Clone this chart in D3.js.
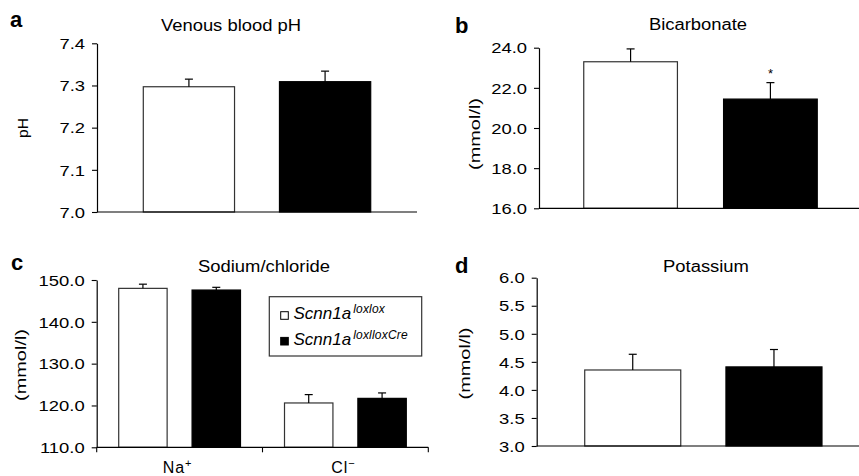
<!DOCTYPE html>
<html>
<head>
<meta charset="utf-8">
<script src="https://cdn.jsdelivr.net/npm/d3@7"></script>
<style>
  html, body { margin: 0; padding: 0; background: #fff; }
  svg { display: block; }
  text { font-family: "Liberation Sans", Arial, Helvetica, sans-serif; fill: #000; }
</style>
</head>
<body>
<svg id="chart" width="859" height="476"></svg>
<script>
// ---------- data ----------
const groups = ["loxlox", "loxlloxCre"];
const legendBase = ["Scnn1a", "Scnn1a"];
const legendSup = ["loxlox", "loxlloxCre"];

const phMeans = [7.297, 7.309];
const phErrors = [0.018, 0.025];
const phTicks = [7.0, 7.1, 7.2, 7.3, 7.4];

const bicarbMeans = [23.30, 21.44];
const bicarbErrors = [0.64, 0.82];
const bicarbTicks = [16, 18, 20, 22, 24];
const bicarbSignificant = [false, true];

const ionCategories = ["Na", "Cl"];
const ionSuperscripts = ["+", "\u2212"];
const sodiumMeans = [148.0, 147.6];
const sodiumErrors = [1.0, 0.65];
const chlorideMeans = [120.6, 121.7];
const chlorideErrors = [2.0, 1.3];
const ionTicks = [110, 120, 130, 140, 150];

const potassiumMeans = [4.355, 4.41];
const potassiumErrors = [0.28, 0.31];
const potassiumTicks = [3.0, 3.5, 4.0, 4.5, 5.0, 5.5, 6.0];

// ---------- drawing ----------
const svg = d3.select("#chart");
const fills = ["#ffffff", "#000000"];
const strokes = ["#333333", "#000000"];
const TICK_STRETCH = 1.27;
const TITLE_STRETCH = 1.15;

function stretch(sel, factor) {
  sel.each(function () {
    const len = this.getComputedTextLength();
    d3.select(this).attr("textLength", len * factor).attr("lengthAdjust", "spacingAndGlyphs");
  });
}

function yAxis(g, y, ticks, fmt) {
  const ax = d3.axisLeft(y).tickValues(ticks).tickFormat(d3.format(fmt)).tickSize(5).tickPadding(7).tickSizeOuter(0);
  g.call(ax);
  g.select(".domain").attr("stroke", "#000").attr("stroke-width", 1.2);
  g.selectAll(".tick line").attr("stroke", "#000").attr("stroke-width", 1.1);
  g.selectAll(".tick text").attr("font-size", 14.5).attr("font-family", "Liberation Sans, Arial, sans-serif").attr("fill", "#000").attr("dy", "0.36em");
  stretch(g.selectAll(".tick text"), TICK_STRETCH);
}

function drawBars(g, x, y, means, errors, offset) {
  const bw = x.bandwidth();
  groups.forEach((grp, i) => {
    const x0 = x(grp) + (offset || 0);
    g.append("rect")
      .attr("x", x0).attr("width", bw)
      .attr("y", y(means[i])).attr("height", y.range()[0] - y(means[i]))
      .attr("fill", fills[i]).attr("stroke", strokes[i]).attr("stroke-width", 1.2);
    const cx = x0 + bw / 2;
    g.append("line").attr("x1", cx).attr("x2", cx)
      .attr("y1", y(means[i])).attr("y2", y(means[i] + errors[i]))
      .attr("stroke", "#000").attr("stroke-width", 1.2);
    g.append("line").attr("x1", cx - 4).attr("x2", cx + 4)
      .attr("y1", y(means[i] + errors[i])).attr("y2", y(means[i] + errors[i]))
      .attr("stroke", "#000").attr("stroke-width", 1.2);
  });
}

function panelText(letter, lx, ly, title, tx, ty, ylabel, yx, yy) {
  svg.append("text").attr("x", lx).attr("y", ly).attr("font-size", 22).attr("font-weight", "bold").text(letter);
  const t = svg.append("text").attr("x", tx).attr("y", ty).attr("font-size", 16).attr("text-anchor", "middle").text(title);
  stretch(t, TITLE_STRETCH);
  svg.append("text").attr("transform", `translate(${yx},${yy}) rotate(-90)`)
    .attr("font-size", 15).attr("text-anchor", "middle")
    .attr("textLength", ylabel === "pH" ? 20 : 72).attr("lengthAdjust", "spacingAndGlyphs")
    .text(ylabel);
}

function xBaseline(y, x0, x1) {
  svg.append("line").attr("x1", x0).attr("x2", x1).attr("y1", y).attr("y2", y)
    .attr("stroke", "#000").attr("stroke-width", 1.2);
}

// Panel a
{
  const y = d3.scaleLinear().domain([7.0, 7.4]).range([212, 43.3]);
  const x = d3.scaleBand().domain(groups).range([97, 417]).paddingInner(0.33).paddingOuter(0.34);
  const g = svg.append("g");
  drawBars(g, x, y, phMeans, phErrors);
  xBaseline(212, 97, 417);
  yAxis(svg.append("g").attr("transform", "translate(97,0)"), y, phTicks, ".1f");
  panelText("a", 10, 27, "Venous blood pH", 231, 30.5, "pH", 28, 128);
}

// Panel b
{
  const y = d3.scaleLinear().domain([16, 24]).range([208.3, 47.7]);
  const x = d3.scaleBand().domain(groups).range([539, 862]).paddingInner(0.33).paddingOuter(0.32);
  const g = svg.append("g");
  drawBars(g, x, y, bicarbMeans, bicarbErrors);
  groups.forEach((grp, i) => {
    if (bicarbSignificant[i]) {
      svg.append("text").attr("x", x(grp) + x.bandwidth() / 2).attr("y", y(bicarbMeans[i] + bicarbErrors[i]) - 5)
        .attr("text-anchor", "middle").attr("font-size", 13).text("*");
    }
  });
  xBaseline(208.3, 539, 859);
  yAxis(svg.append("g").attr("transform", "translate(539,0)"), y, bicarbTicks, ".1f");
  panelText("b", 455, 32.5, "Bicarbonate", 698, 30, "(mmol/l)", 480, 134);
}

// Panel c
{
  const y = d3.scaleLinear().domain([110, 150]).range([447.3, 280]);
  const xc = d3.scaleBand().domain(ionCategories).range([96.7, 428.3]);
  const xi = d3.scaleBand().domain(groups).range([0, xc.bandwidth()]).paddingInner(0.34).paddingOuter(0.3);
  const g = svg.append("g");
  drawBars(g, xi, y, sodiumMeans, sodiumErrors, xc("Na"));
  drawBars(g, xi, y, chlorideMeans, chlorideErrors, xc("Cl"));
  // x axis with category separators
  const xg = svg.append("g").attr("transform", "translate(0,447.3)");
  xg.append("line").attr("x1", 96.7).attr("x2", 428.3).attr("stroke", "#000").attr("stroke-width", 1.2);
  const seps = ionCategories.map(c => xc(c)).concat([xc.range()[1]]);
  xg.selectAll("line.sep").data(seps).enter().append("line").attr("class", "sep")
    .attr("x1", d => d).attr("x2", d => d).attr("y1", 0).attr("y2", 5)
    .attr("stroke", "#000").attr("stroke-width", 1.1);
  ionCategories.forEach((c, i) => {
    const t = svg.append("text").attr("x", xc(c) + xc.bandwidth() / 2 - 2).attr("y", 473)
      .attr("text-anchor", "middle").attr("font-size", 16).attr("letter-spacing", 1);
    t.append("tspan").text(c);
    t.append("tspan").attr("dy", -6).attr("font-size", 11).text(ionSuperscripts[i]);
  });
  yAxis(svg.append("g").attr("transform", "translate(96.7,0)"), y, ionTicks, ".1f");
  panelText("c", 11, 269.5, "Sodium/chloride", 264, 271.5, "(mmol/l)", 25.5, 365);

  // legend
  const lg = svg.append("g");
  lg.append("rect").attr("x", 269.3).attr("y", 296.7).attr("width", 152.4).attr("height", 59.3)
    .attr("fill", "#fff").attr("stroke", "#333").attr("stroke-width", 1.2);
  groups.forEach((grp, i) => {
    const by = 319.3 + i * 25.7;
    lg.append("rect").attr("x", 280.7).attr("y", by - 7.6).attr("width", 7.6).attr("height", 7.6)
      .attr("fill", fills[i]).attr("stroke", "#000").attr("stroke-width", 1);
    const t = lg.append("text").attr("x", 293.5).attr("y", by).attr("font-size", 17).attr("font-style", "italic");
    t.append("tspan").text(legendBase[i]);
    t.append("tspan").attr("dx", 2).attr("dy", -6).attr("font-size", 12).attr("letter-spacing", 0.2).text(legendSup[i]);
  });
}

// Panel d
{
  const y = d3.scaleLinear().domain([3, 6]).range([446, 277.7]);
  const x = d3.scaleBand().domain(groups).range([536.7, 870]).paddingInner(0.32).paddingOuter(0.34);
  const g = svg.append("g");
  drawBars(g, x, y, potassiumMeans, potassiumErrors);
  xBaseline(446, 536.7, 859);
  yAxis(svg.append("g").attr("transform", "translate(536.7,0)"), y, potassiumTicks, ".1f");
  panelText("d", 455, 273, "Potassium", 706, 272.3, "(mmol/l)", 470, 363.5);
}
</script>
</body>
</html>
